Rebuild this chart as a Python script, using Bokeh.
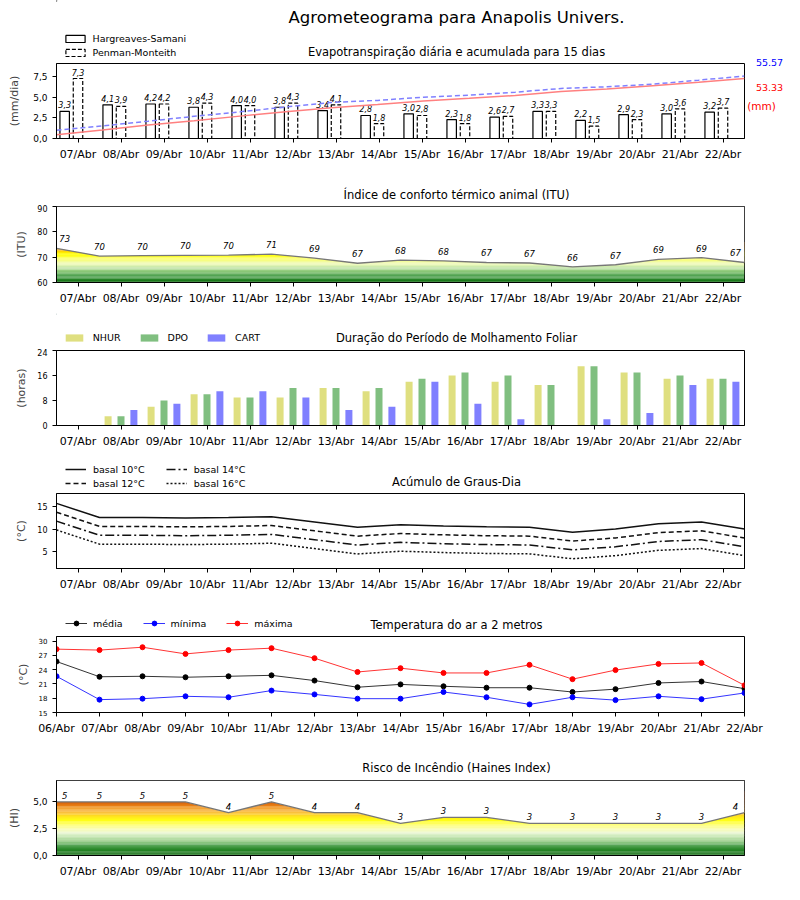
import numpy as np
from bokeh.plotting import figure
from bokeh.layouts import column, row
from bokeh.models import Range1d, FixedTicker, Label, Legend, LegendItem, ColumnDataSource
from bokeh.core.properties import value
from bokeh.embed import file_html
from bokeh.resources import INLINE

FONT = "DejaVu Sans"

# ---------------- data ----------------
days = ["07/Abr", "08/Abr", "09/Abr", "10/Abr", "11/Abr", "12/Abr", "13/Abr", "14/Abr",
        "15/Abr", "16/Abr", "17/Abr", "18/Abr", "19/Abr", "20/Abr", "21/Abr", "22/Abr"]
days_temp = ["06/Abr"] + days

et_hs = [3.3, 4.1, 4.2, 3.8, 4.0, 3.8, 3.4, 2.8, 3.0, 2.3, 2.6, 3.3, 2.2, 2.9, 3.0, 3.2]
et_pm = [7.3, 3.9, 4.2, 4.3, 4.0, 4.3, 4.1, 1.8, 2.8, 1.8, 2.7, 3.3, 1.5, 2.3, 3.6, 3.7]
et_hs_acum = [3.4, 7.6, 11.9, 15.8, 19.9, 23.8, 27.3, 30.2, 33.3, 35.7, 38.3, 41.7, 44.0, 47.0, 50.0, 53.33]
et_pm_acum = [7.3, 11.2, 15.4, 19.7, 23.7, 28.0, 32.1, 33.9, 36.7, 38.5, 41.2, 44.5, 46.0, 48.3, 51.9, 55.57]
et_hs_total = "53.33"
et_pm_total = "55.57"

itu = [73.5, 70.4, 70.6, 70.7, 70.8, 71.2, 69.6, 67.6, 68.8, 68.5, 67.9, 67.7, 66.2, 67.0, 69.1, 69.8, 67.9]
itu_labels = ["73", "70", "70", "70", "70", "71", "69", "67", "68", "68", "67", "67", "66", "67", "69", "69", "67"]

nhur = [0, 3, 6, 10, 9, 9, 12, 11, 14, 16, 14, 13, 19, 17, 15, 15]
dpo = [0, 3, 8, 10, 9, 12, 12, 12, 15, 17, 16, 13, 19, 17, 16, 15]
cart = [0, 5, 7, 11, 11, 9, 5, 6, 14, 7, 2, 0, 2, 4, 13, 14]

gdd10 = [15.8, 12.6, 12.6, 12.5, 12.6, 12.8, 11.6, 10.4, 11.0, 10.7, 10.5, 10.4, 9.3, 10.0, 11.2, 11.6, 10.0]
gdd12 = [13.8, 10.6, 10.6, 10.5, 10.6, 10.8, 9.6, 8.4, 9.0, 8.7, 8.5, 8.4, 7.3, 8.0, 9.2, 9.6, 8.0]
gdd14 = [11.8, 8.6, 8.6, 8.5, 8.6, 8.8, 7.6, 6.4, 7.0, 6.7, 6.5, 6.4, 5.3, 6.0, 7.2, 7.6, 6.0]
gdd16 = [9.8, 6.6, 6.6, 6.5, 6.6, 6.8, 5.6, 4.4, 5.0, 4.7, 4.5, 4.4, 3.3, 4.0, 5.2, 5.6, 4.0]

t_med = [25.7, 22.5, 22.6, 22.4, 22.6, 22.8, 21.7, 20.3, 20.9, 20.5, 20.2, 20.2, 19.3, 19.9, 21.2, 21.5, 20.0]
t_min = [22.6, 17.7, 17.9, 18.4, 18.2, 19.6, 18.8, 17.9, 17.9, 19.3, 18.2, 16.7, 18.2, 17.6, 18.4, 17.8, 19.1]
t_max = [28.3, 28.1, 28.7, 27.3, 28.1, 28.5, 26.4, 23.5, 24.3, 23.3, 23.3, 25.0, 22.0, 23.9, 25.2, 25.4, 20.7]

haines = [5, 5, 5, 5, 4, 5, 4, 4, 3, 3.55, 3.55, 3, 3, 3, 3, 3, 4]
haines_labels = ["5", "5", "5", "5", "4", "5", "4", "4", "3", "3", "3", "3", "3", "3", "3", "3", "4"]

# ---------------- helpers ----------------
FW = 688
XR = (-0.5, 15.5)
LB = 56      # left border (page x of frame left)
TOTAL_W = 792


def comma(v):
    return f"{v:.1f}".replace(".", ",")


def interp_colors(anchors, vals):
    xs = [a[0] for a in anchors]
    rgb = [[int(a[1][i:i + 2], 16) for i in (1, 3, 5)] for a in anchors]
    out = []
    for v in vals:
        c = [int(round(np.interp(v, xs, [q[j] for q in rgb]))) for j in range(3)]
        out.append("#%02x%02x%02x" % tuple(c))
    return out


def base_fig(y_range, bottom, fh=75, x_range=XR, ylabel="", ytick_size="8px", ylab_standoff=6, rb=48):
    p = figure(frame_width=FW, frame_height=fh, x_range=Range1d(*x_range), y_range=Range1d(*y_range),
               min_border_left=LB, min_border_right=rb, min_border_top=2, min_border_bottom=bottom,
               output_backend="svg", toolbar_location=None)
    p.xgrid.visible = False
    p.ygrid.visible = False
    p.outline_line_color = "black"
    p.outline_line_alpha = 1.0
    p.outline_line_width = 1
    p.background_fill_color = "white"
    p.border_fill_color = "white"
    for ax in (p.xaxis[0], p.yaxis[0]):
        ax.axis_line_color = "black"
        ax.major_tick_line_color = "black"
        ax.minor_tick_line_color = None
        ax.major_tick_in = 0
        ax.major_tick_out = 4
        ax.major_label_text_font = FONT
        ax.major_label_text_color = "black"
        ax.major_label_standoff = 5
    p.xaxis.major_label_text_font_size = "11px"
    p.yaxis.major_label_text_font_size = ytick_size
    p.yaxis.axis_label = ylabel
    p.yaxis.axis_label_text_font = FONT
    p.yaxis.axis_label_text_font_size = "11px"
    p.yaxis.axis_label_text_font_style = "normal"
    p.yaxis.axis_label_standoff = ylab_standoff
    if x_range == XR:
        p.xaxis.ticker = FixedTicker(ticks=list(range(len(days))))
        p.xaxis.major_label_overrides = {i: d for i, d in enumerate(days)}
    return p


def header(h, w=TOTAL_W):
    f = figure(frame_width=w, frame_height=h, x_range=Range1d(0, w), y_range=Range1d(h, 0),
               min_border_left=0, min_border_right=0, min_border_top=0, min_border_bottom=0,
               x_axis_type=None, y_axis_type=None, output_backend="svg", toolbar_location=None)
    f.outline_line_color = None
    f.background_fill_color = "white"
    f.border_fill_color = "white"
    f.xgrid.visible = False
    f.ygrid.visible = False
    return f


def add_text(f, x, y, text, size="11.5px", color="black", align="center"):
    f.add_layout(Label(x=x, y=y, text=text, text_align=align, text_baseline="middle", text_font=FONT,
                       text_font_size=size, text_color=color))


def style_legend(leg, **kw):
    leg.padding = 0
    leg.margin = 0
    leg.border_line_color = None
    leg.background_fill_alpha = 0
    leg.label_text_font = FONT
    leg.label_text_font_size = "9.5px"
    leg.label_text_color = "black"
    for k, v in kw.items():
        setattr(leg, k, v)
    return leg


xd = np.arange(len(days))
xb = np.arange(len(itu)) - 0.5
OFF = [-100]  # dummy off-frame positions for legend-only renderers
OFF2 = [-100, -99]

# ---------------- panel 1: ET ----------------
h1 = header(61, w=746)
add_text(h1, 400, 17, "Agrometeograma para Anapolis Univers.", size="16.5px")
add_text(h1, 400, 51, "Evapotranspiração diária e acumulada para 15 dias")
d_hs = h1.vbar(x=OFF, top=[1], width=1, fill_color="white", line_color="black", line_width=1.2)
d_pm = h1.vbar(x=OFF, top=[1], width=1, fill_color="white", line_color="black", line_width=1.2, line_dash="4 2")
leg1 = Legend(items=[LegendItem(label="Hargreaves-Samani", renderers=[d_hs]),
                     LegendItem(label="Penman-Monteith", renderers=[d_pm])])
style_legend(leg1, location=(62.6, 2.3), orientation="vertical", glyph_width=24, glyph_height=9,
             label_height=12, label_standoff=6, spacing=2)
h1.add_layout(leg1)

p1 = base_fig((0, 9.125), bottom=32, ylabel="(mm/dia)", ytick_size="9px", ylab_standoff=9, rb=2)
p1.yaxis.ticker = FixedTicker(ticks=[0, 2.5, 5, 7.5])
p1.yaxis.major_label_overrides = {0: "0,0", 2.5: "2,5", 5: "5,0", 7.5: "7,5"}
p1.extra_y_ranges = {"acum": Range1d(0, 66.7)}
s1 = ColumnDataSource(dict(xh=xd - 0.31, xp=xd, hs=et_hs, pm=et_pm,
                           th=[comma(v) for v in et_hs], tp=[comma(v) for v in et_pm]))
p1.vbar(x="xh", top="hs", width=0.22, source=s1, fill_color="white", line_color="black", line_width=1.2)
p1.vbar(x="xp", top="pm", width=0.22, source=s1, fill_color="white", line_color="black",
        line_width=1.2, line_dash="4 2")
for xc, yc, tc in (("xh", "hs", "th"), ("xp", "pm", "tp")):
    p1.text(x=xc, y=yc, text=tc, source=s1, text_align="center", text_baseline="middle", y_offset=-6.5,
            text_font=value(FONT), text_font_size="8px", text_font_style="italic", text_color="black")
xc_acum = np.linspace(XR[0], XR[1], len(et_hs_acum))
p1.line(xc_acum, et_hs_acum, y_range_name="acum", line_color="#ff8080", line_width=1.5)
p1.line(xc_acum, et_pm_acum, y_range_name="acum", line_color="#8080ff", line_width=1.5, line_dash="5 3")

side1 = header(170, w=46)
add_text(side1, 23, 61.7, et_pm_total, size="9.5px", color="blue")
add_text(side1, 23, 86.7, et_hs_total, size="9.5px", color="red")
add_text(side1, 15, 105, "(mm)", size="10.5px", color="red")

# ---------------- panel 2: ITU ----------------
h2 = header(34)
add_text(h2, 400, 24, "Índice de conforto térmico animal (ITU)")

p2 = base_fig((60, 90), bottom=31, fh=76, ylabel="(ITU)")
p2.yaxis.ticker = FixedTicker(ticks=[60, 70, 80, 90])
itu_anchors = [(60, "#0b660b"), (61.5, "#2b8a2b"), (63, "#5aa85a"), (64.5, "#8cc878"), (65.8, "#bfe3a4"),
               (67, "#e8f7b8"), (68.3, "#f3fc9a"), (69.5, "#fbff5a"), (70.5, "#ffff20"), (71.5, "#ffff00"),
               (72.4, "#ffd000"), (73.3, "#f5a623"), (75, "#ee8000")]
lv2 = np.arange(60, 76, 0.5)
p2.hbar(y=lv2 + 0.25, height=0.53, left=XR[0], right=XR[1], fill_color=interp_colors(itu_anchors, lv2 + 0.25),
        line_color=None)
p2.varea(x=xb, y1=itu, y2=90, fill_color="white")
p2.line(xb, itu, line_color="#777777", line_width=1.3)
p2.text(x=np.clip(xb, -0.31, 15.29), y=itu, text=itu_labels, text_align="center", text_baseline="middle",
        y_offset=-9.5, text_font=value(FONT), text_font_size="8.5px", text_font_style="italic", text_color="black")

# ---------------- panel 3: leaf wetness ----------------
h3 = header(35)
add_text(h3, 400, 24, "Duração do Período de Molhamento Foliar")
leaf_colors = ["#dfdf80", "#80bf80", "#8080ff"]
d3 = [h3.vbar(x=OFF, top=[1], width=1, fill_color=c, line_color=None) for c in leaf_colors]
leg3 = Legend(items=[LegendItem(label=n, renderers=[r]) for n, r in zip(["NHUR", "DPO", "CART"], d3)])
style_legend(leg3, location=(62.75, 5), orientation="horizontal", glyph_width=22, glyph_height=9,
             label_height=12, label_standoff=8, spacing=17)
h3.add_layout(leg3)

p3 = base_fig((0, 24), bottom=33, ylabel="(horas)")
p3.yaxis.ticker = FixedTicker(ticks=[0, 8, 16, 24])
for off, arr, c in ((-0.3, nhur, leaf_colors[0]), (0, dpo, leaf_colors[1]), (0.3, cart, leaf_colors[2])):
    p3.vbar(x=xd + off, top=arr, width=0.163, fill_color=c, line_color=None)

# ---------------- panel 4: degree days ----------------
h4 = header(33)
add_text(h4, 400, 23, "Acúmulo de Graus-Dia")
dashes = ["solid", "5 3", "9 3 2 3", "2 2"]
d4 = [h4.line(OFF2, [0, 0], line_color="#111111", line_width=1.5, line_dash=d) for d in dashes]
leg4a = Legend(items=[LegendItem(label="basal 10°C", renderers=[d4[0]]),
                      LegendItem(label="basal 12°C", renderers=[d4[1]])])
style_legend(leg4a, location=(65, 1.7), orientation="vertical", glyph_width=21, glyph_height=12,
             label_height=12, label_standoff=7, spacing=2)
leg4b = Legend(items=[LegendItem(label="basal 14°C", renderers=[d4[2]]),
                      LegendItem(label="basal 16°C", renderers=[d4[3]])])
style_legend(leg4b, location=(165.7, 1.7), orientation="vertical", glyph_width=21, glyph_height=12,
             label_height=12, label_standoff=7, spacing=2)
h4.add_layout(leg4a)
h4.add_layout(leg4b)

p4 = base_fig((1.1, 18.03), bottom=32, ylabel="(°C)")
p4.yaxis.ticker = FixedTicker(ticks=[5, 10, 15])
for arr, d in zip((gdd10, gdd12, gdd14, gdd16), dashes):
    p4.line(xb, arr, line_color="#111111", line_width=1.5, line_dash=d)

# ---------------- panel 5: temperature ----------------
h5 = header(34)
add_text(h5, 400, 24, "Temperatura do ar a 2 metros")
t_series = ((t_med, "black", "média"), (t_min, "blue", "mínima"), (t_max, "red", "máxima"))
items5 = []
for arr, col, name in t_series:
    dl = h5.line(OFF2, [0, 0], line_color=col, line_width=1, line_alpha=0.8)
    ds = h5.scatter(OFF, [0], size=5, fill_color=col, line_color=col, marker="circle")
    items5.append(LegendItem(label=name, renderers=[dl, ds]))
leg5 = Legend(items=items5)
style_legend(leg5, location=(65, 4.7), orientation="horizontal", glyph_width=22, glyph_height=12,
             label_height=12, label_standoff=6, spacing=20)
h5.add_layout(leg5)

p5 = base_fig((15, 30.95), bottom=33, fh=76, x_range=(0, 16), ylabel="(°C)", ytick_size="7px")
p5.xaxis.ticker = FixedTicker(ticks=list(range(len(days_temp))))
p5.xaxis.major_label_overrides = {i: d for i, d in enumerate(days_temp)}
p5.yaxis.ticker = FixedTicker(ticks=[15, 18, 21, 24, 27, 30])
xt = np.arange(len(days_temp))
for arr, col, name in t_series:
    p5.line(xt, arr, line_color=col, line_width=1, line_alpha=0.8)
    p5.scatter(xt, arr, size=5, fill_color=col, line_color=col, marker="circle")

# ---------------- panel 6: Haines ----------------
h6 = header(33)
add_text(h6, 400, 22, "Risco de Incêndio (Haines Index)")

p6 = base_fig((0, 7.0), bottom=33, ylabel="(HI)", ytick_size="9px", ylab_standoff=9)
p6.yaxis.ticker = FixedTicker(ticks=[0, 2.5, 5])
p6.yaxis.major_label_overrides = {0: "0,0", 2.5: "2,5", 5: "5,0"}
hi_anchors = [(0, "#0b660b"), (0.6, "#2b8a2b"), (1.0, "#5aa85a"), (1.4, "#8cc878"), (1.8, "#c8e8b4"),
              (2.1, "#eef8dc"), (2.5, "#f8fcb0"), (2.9, "#ffff50"), (3.3, "#ffff14"), (3.7, "#ffe020"),
              (4.1, "#f8b020"), (4.5, "#f09018"), (4.8, "#e07010"), (5.1, "#c85a0a"), (5.6, "#b04000")]
lv6 = np.arange(0, 6, 0.1)
p6.hbar(y=lv6 + 0.05, height=0.106, left=XR[0], right=XR[1], fill_color=interp_colors(hi_anchors, lv6 + 0.05),
        line_color=None)
p6.varea(x=xb, y1=haines, y2=7.0, fill_color="white")
p6.line(xb, haines, line_color="#777777", line_width=1.3)
p6.text(x=np.clip(xb, -0.31, 15.29), y=haines, text=haines_labels, text_align="center", text_baseline="middle",
        y_offset=-6.5, text_font=value(FONT), text_font_size="8.5px", text_font_style="italic", text_color="black")

layout = column(row(column(h1, p1), side1), h2, p2, h3, p3, h4, p4, h5, p5, h6, p6, spacing=0)
open("out.html", "w").write(file_html(layout, INLINE))
